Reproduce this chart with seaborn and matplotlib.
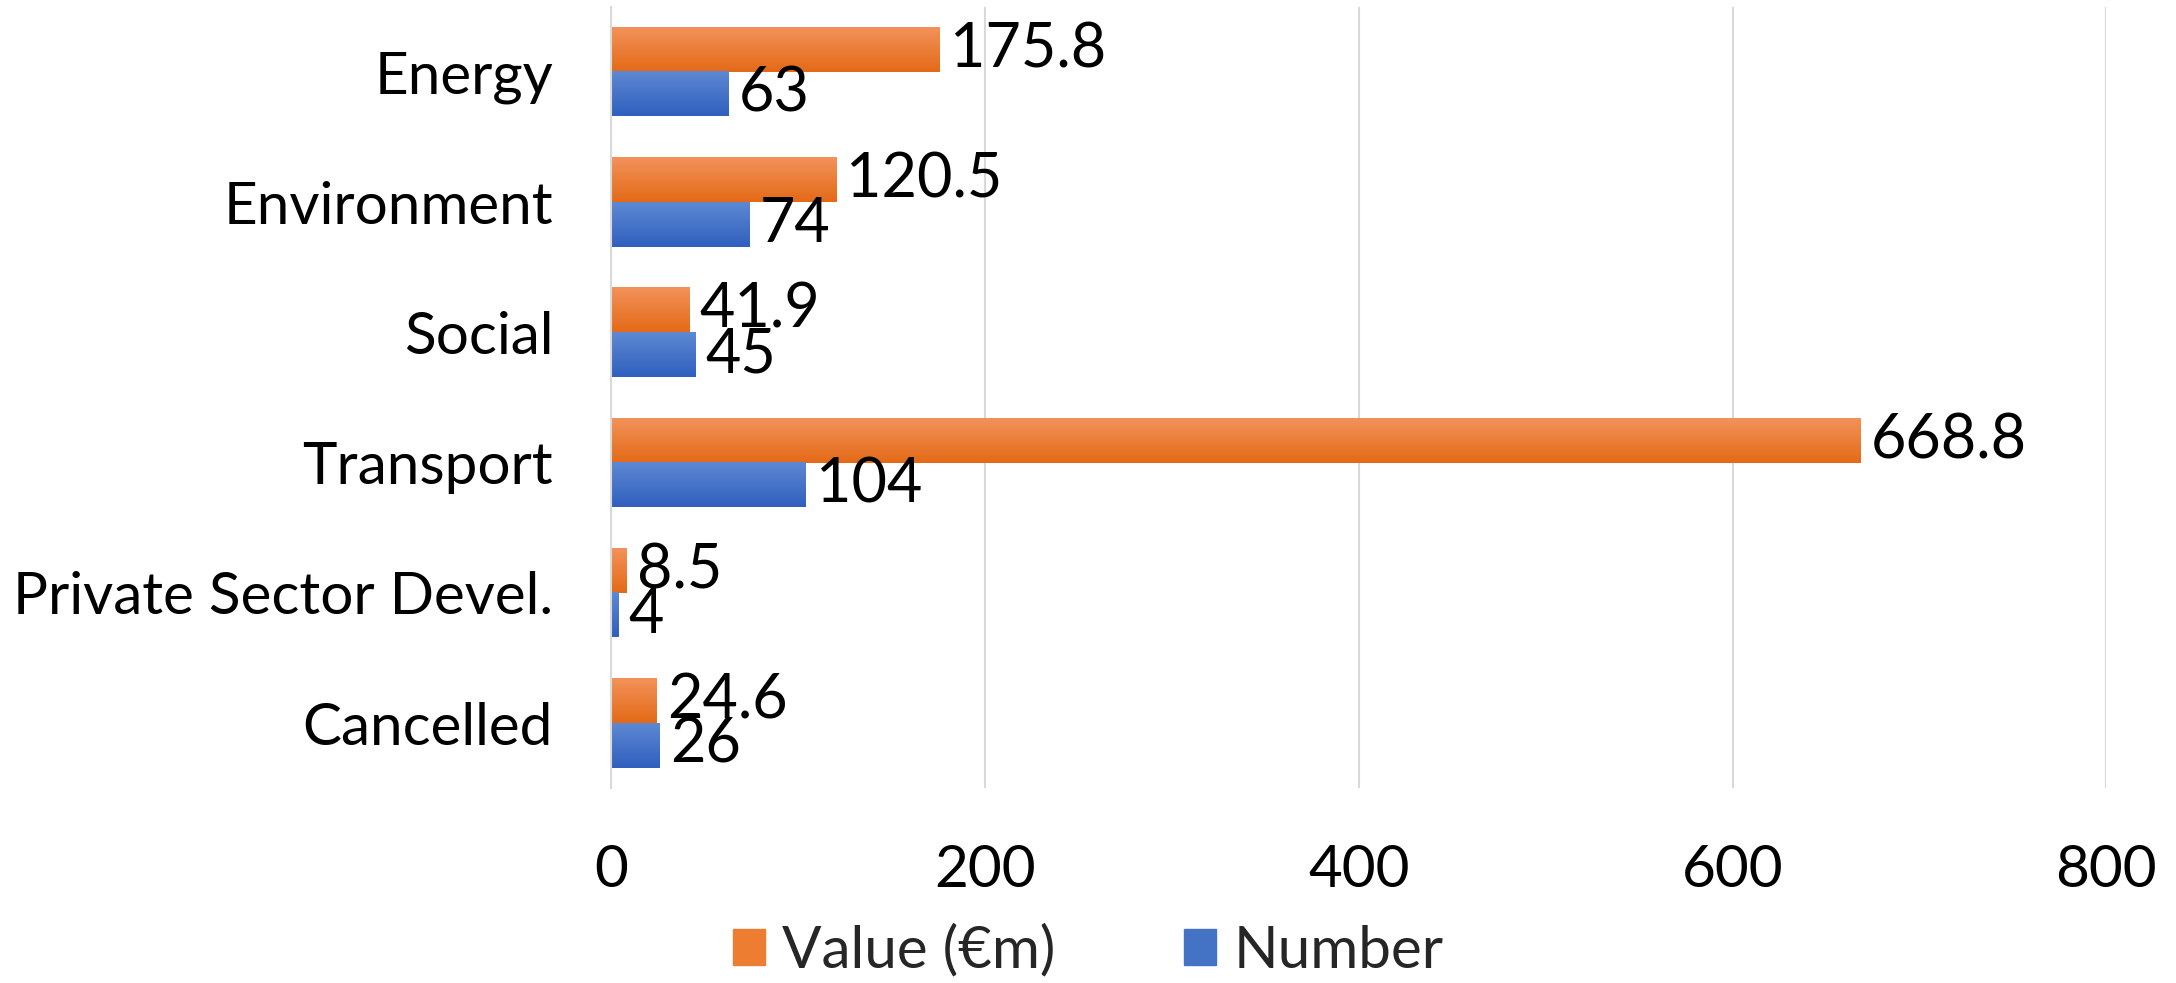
import numpy as np
import pandas as pd
import matplotlib
matplotlib.use("Agg")
import matplotlib.pyplot as plt
from matplotlib.colors import LinearSegmentedColormap
import seaborn as sns

categories = ["Energy", "Environment", "Social", "Transport",
              "Private Sector Devel.", "Cancelled"]
value_eur_m = [175.8, 120.5, 41.9, 668.8, 8.5, 24.6]
number = [63, 74, 45, 104, 4, 26]
series = ["Value (€m)", "Number"]
x_ticks = [0, 200, 400, 600, 800]

df = pd.DataFrame({
    "Category": categories * 2,
    "Series": [series[0]] * len(categories) + [series[1]] * len(categories),
    "Amount": value_eur_m + number,
})

sns.set_style("white")
plt.rcParams["font.family"] = ["Lato", "DejaVu Sans"]

colors = {series[0]: "#ED7D31", series[1]: "#4472C4"}
grads = {series[0]: ("#F2925A", "#E46A17"), series[1]: ("#5E88D2", "#2F60BE")}

fig = plt.figure(figsize=(21.76, 9.83), dpi=100)
ax = fig.add_axes([0.281, 0.198, 0.687, 0.795])

sns.barplot(data=df, y="Category", x="Amount", hue="Series", hue_order=series,
            order=categories, orient="h", palette=colors, width=0.68,
            errorbar=None, ax=ax, legend=False)

ax.set_xlim(0, 800)
ax.set_xticks(x_ticks)
ax.set_xticklabels([str(t) for t in x_ticks])
ax.set_xlabel("")
ax.set_ylabel("")
ax.tick_params(axis="both", length=0, labelsize=42, labelcolor="black")
ax.tick_params(axis="x", pad=40)
ax.tick_params(axis="y", pad=42)
ax.grid(axis="x", color="#D9D9D9", linewidth=1.5)
ax.set_axisbelow(True)
for s in ["top", "right", "bottom"]:
    ax.spines[s].set_visible(False)
ax.spines["left"].set_color("#D9D9D9")
ax.spines["left"].set_linewidth(1.5)

# vertical gradient fill on each bar
for cont, name in zip(ax.containers, series):
    cmap = LinearSegmentedColormap.from_list(name, [grads[name][0], grads[name][1]])
    for bar in cont:
        x0, y0 = bar.get_x(), bar.get_y()
        w, h = bar.get_width(), bar.get_height()
        bar.set_alpha(0)
        ax.imshow(np.linspace(0, 1, 64).reshape(-1, 1), cmap=cmap,
                  extent=[x0, x0 + w, y0 + h, y0], aspect="auto",
                  origin="upper", zorder=2)
    ax.bar_label(cont, labels=[f"{v:g}" for v in cont.datavalues],
                 padding=7, fontsize=44, color="black")

ax.set_ylim(len(categories) - 0.5, -0.5)

handles = [plt.Rectangle((0, 0), 1, 1, color=colors[s]) for s in series]
fig.legend(handles, series, loc="lower center", bbox_to_anchor=(0.5, -0.048),
           ncol=2, frameon=False, fontsize=42, handlelength=0.55,
           handleheight=0.55, columnspacing=2.2, handletextpad=0.3)

fig.savefig("out.png", dpi=100)
